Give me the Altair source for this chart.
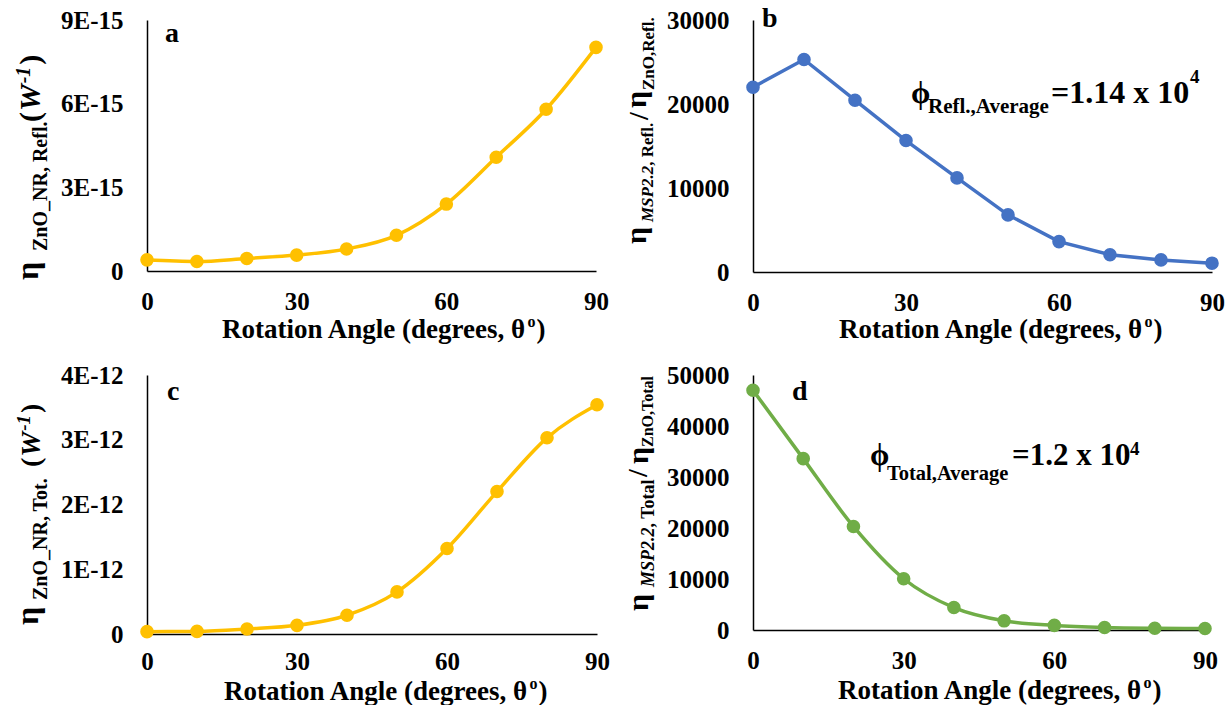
import altair as alt
import pandas as pd

# ---------------- data ----------------
angles = [0, 10, 20, 30, 40, 50, 60, 70, 80, 90]
eta_zno_refl = [0.40e-15, 0.34e-15, 0.45e-15, 0.57e-15, 0.79e-15, 1.28e-15,
                2.40e-15, 4.08e-15, 5.80e-15, 8.02e-15]
ratio_refl = [22000, 25300, 20450, 15650, 11200, 6800, 3620, 2060, 1440, 1050]
eta_zno_tot = [0.036e-12, 0.040e-12, 0.077e-12, 0.134e-12, 0.29e-12, 0.65e-12,
               1.32e-12, 2.20e-12, 3.03e-12, 3.54e-12]
ratio_tot = [47000, 33600, 20300, 10050, 4400, 1800, 900, 500, 350, 300]

x_ticks = [0, 30, 60, 90]
a_ticks = [0, 3e-15, 6e-15, 9e-15]
b_ticks = [0, 10000, 20000, 30000]
c_ticks = [0, 1e-12, 2e-12, 3e-12, 4e-12]
d_ticks = [0, 10000, 20000, 30000, 40000, 50000]

YELLOW = "#FFC000"
BLUE = "#4472C4"
GREEN = "#70AD47"
FONT = "'Liberation Serif', 'Times New Roman', Times, 'DejaVu Serif', serif"

# ---------------- rich-text helper (Times metrics) ----------------
W_B = {" ": 250, "(": 333, ")": 333, ",": 250, "-": 333, ".": 250, "/": 278,
       "=": 570, "_": 500, "A": 722, "E": 667, "M": 944, "N": 722, "O": 778,
       "P": 611, "R": 722, "S": 556, "T": 667, "W": 1000, "Z": 667, "a": 500,
       "d": 556, "e": 444, "f": 333, "g": 500, "i": 278, "l": 278, "n": 556,
       "o": 500, "r": 444, "s": 389, "t": 333, "v": 500, "x": 500,
       "η": 560, "θ": 500, "ϕ": 620}
W_BI = {"M": 889, "S": 556, "P": 611, ".": 250, "W": 889, "-": 333}


def tw(text, size, italic=False):
    tab = W_BI if italic else W_B
    return sum(tab.get(ch, W_B.get(ch, 500)) for ch in text) * size / 1000.0


def txt(text, x, y, size, italic=False, angle=0):
    kw = dict(font=FONT, fontWeight="bold", fontSize=size, align="left",
              baseline="alphabetic", color="black")
    if italic:
        kw["fontStyle"] = "italic"
    if angle:
        kw["angle"] = angle
    return alt.Chart(alt.Data(values=[{"k": 1}])).mark_text(**kw).encode(
        x=alt.value(x), y=alt.value(y), text=alt.value(text))


def run(pieces, x0, y0, vertical=False):
    """pieces: (text, size, italic, raise[, gap before]). Laid out in sequence."""
    out, pos = [], 0.0
    for piece in pieces:
        text, size, italic, rise = piece[:4]
        pos += piece[4] if len(piece) > 4 else 0
        if vertical:
            out.append(txt(text, x0 - rise, y0 - pos, size, italic, 270))
        else:
            out.append(txt(text, x0 + pos, y0 - rise, size, italic))
        pos += tw(text, size, italic)
    return out


def xtitle(x0, y0):
    return run([("Rotation Angle (degrees, θ", 27, False, 0),
                ("o", 16, False, 11, 1),
                (")", 27, False, 0, 1)], x0, y0)


def axis_x(pad=18):
    return alt.Axis(values=x_ticks, grid=False, ticks=False, tickSize=0,
                    domainColor="black", domainWidth=1.5, labelFont=FONT,
                    labelFontWeight="bold", labelFontSize=25, labelColor="black",
                    labelPadding=pad, labelFlush=False, labelOverlap=False, title=None)


def axis_y(values, expr=None, fmt=None):
    kw = dict(values=values, grid=False, ticks=False, tickSize=0,
              domainColor="black", domainWidth=1.5, labelFont=FONT,
              labelFontWeight="bold", labelFontSize=25, labelColor="black",
              labelPadding=24, labelFlush=False, labelOverlap=False, title=None)
    if expr:
        kw["labelExpr"] = expr
    if fmt:
        kw["format"] = fmt
    return alt.Axis(**kw)


def series(values, ymax, color, yaxis, interp, xpad=18):
    df = pd.DataFrame({"angle": angles, "v": values})
    base = alt.Chart(df).encode(
        x=alt.X("angle:Q", scale=alt.Scale(domain=[0, 90], nice=False), axis=axis_x(xpad)),
        y=alt.Y("v:Q", scale=alt.Scale(domain=[0, ymax], nice=False), axis=yaxis),
    )
    line = base.mark_line(color=color, strokeWidth=3.5, interpolate=interp)
    pts = base.mark_circle(color=color, size=185, opacity=1)
    return [line, pts]


# ---------------- panel a ----------------
pa = series(eta_zno_refl, 9e-15, YELLOW,
            axis_y(a_ticks, expr="datum.value == 0 ? '0' : round(datum.value * 1e15) + 'E-15'"),
            "monotone")
pa += [txt("a", 18, 22, 28)]
pa += run([("η", 32, False, 0)], -109, 260, True)
pa += run([("ZnO_NR, Refl.", 20, False, 0)], -100, 231, True)
pa += run([("(", 30, False, 0), ("W", 30, True, 0, 1), ("-1", 20, True, 10, 1),
           (")", 30, False, 0, 2)], -107, 102, True)
pa += xtitle(75, 318)
panel_a = alt.layer(*pa).properties(width=449, height=251)

# ---------------- panel b ----------------
pb = series(ratio_refl, 30000, BLUE, axis_y(b_ticks, fmt="d"), "linear")
pb += [txt("b", 9, 7, 28)]
pb += run([("η", 30, False, 0)], -107, 224, True)
pb += run([("MSP2.2", 17, True, 0), (", Refl.", 17, False, 0)], -100, 202, True)
pb += run([("/", 28, False, 0)], -105, 100, True)
pb += run([("η", 30, False, 0)], -107, 88, True)
pb += run([("ZnO,Refl.", 17, False, 0)], -99, 70, True)
pb += run([("ϕ", 31, False, 0)], 158, 83)
pb += run([("Refl.,Average", 21, False, 0)], 175, 93)
pb += run([("=1.14 x 10", 32, False, 0)], 298, 83)
pb += run([("4", 19, False, 0)], 437, 63)
pb += xtitle(86, 318)
panel_b = alt.layer(*pb).properties(width=459, height=252)

# ---------------- panel c ----------------
pc = series(eta_zno_tot, 4e-12, YELLOW,
            axis_y(c_ticks, expr="datum.value == 0 ? '0' : round(datum.value * 1e12) + 'E-12'"),
            "monotone", xpad=15)
pc += [txt("c", 20, 25, 28)]
pc += run([("η", 32, False, 0)], -109, 250, True)
pc += run([("ZnO_NR, Tot.", 20, False, 0)], -100, 225, True)
pc += run([("(", 28, False, 0), ("W", 28, True, 0, 1), ("-1", 19, True, 10, 1),
           (")", 28, False, 0, 2)], -107, 92, True)
pc += xtitle(77, 325)
panel_c = alt.layer(*pc).properties(width=450, height=259)

# ---------------- panel d ----------------
pdd = series(ratio_tot, 50000, GREEN, axis_y(d_ticks, fmt="d"), "monotone")
pdd += [txt("d", 39, 25, 28)]
pdd += run([("η", 30, False, 0)], -105, 236, True)
pdd += run([("MSP2.2", 18, True, 0), (", Total", 18, False, 0)], -99, 212, True)
pdd += run([("/", 28, False, 0)], -106, 102, True)
pdd += run([("η", 30, False, 0)], -105, 89, True)
pdd += run([("ZnO,Total", 16, False, 0)], -100, 72, True)
pdd += run([("ϕ", 31, False, 0)], 117, 90)
pdd += run([("Total,Average", 20.5, False, 0)], 134, 105)
pdd += run([("=1.2 x 10", 31, False, 0)], 259, 90)
pdd += run([("4", 19, False, 0)], 377, 80)
pdd += xtitle(85, 324)
panel_d = alt.layer(*pdd).properties(width=452, height=255)

chart = alt.concat(
    panel_a, panel_b, panel_c, panel_d,
    columns=2, spacing={"row": 103, "column": 156},
    bounds="flush", align="none",
).properties(
    padding={"left": 12, "top": 5, "right": 0, "bottom": 0},
    background="white",
).configure_view(stroke=None)

chart.save("out.html", embed_options={"renderer": "svg", "actions": False})
